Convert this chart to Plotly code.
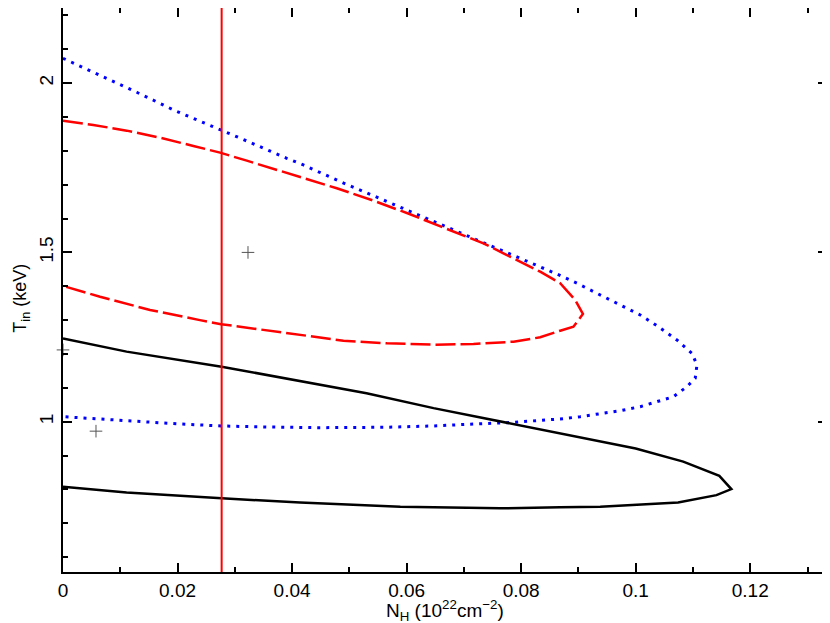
import plotly.graph_objects as go

# ---- confidence contours (N_H in 1e22 cm^-2, T_in in keV) ----
black_nh = [0.0, 0.0111, 0.0277, 0.0414, 0.0530, 0.0647, 0.0775, 0.0868, 0.1000, 0.1083,
            0.1146, 0.1167, 0.1141, 0.1074, 0.0938, 0.0868, 0.0763, 0.0589, 0.0414, 0.0277,
            0.0111, 0.0]
black_t = [1.246, 1.207, 1.1625, 1.121, 1.084, 1.040, 0.997, 0.966, 0.921, 0.882,
           0.840, 0.801, 0.783, 0.761, 0.749, 0.747, 0.744, 0.749, 0.761, 0.774,
           0.791, 0.808]

red_nh = [0.0, 0.00529, 0.01113, 0.01694, 0.02276, 0.02742, 0.03209, 0.0379, 0.04431, 0.04781,
          0.0542, 0.06061, 0.06702, 0.07341, 0.07691, 0.08332, 0.08681, 0.08943, 0.09078,
          0.08913, 0.08681, 0.08332, 0.07866, 0.07167, 0.06468, 0.05654, 0.04896, 0.0414,
          0.0276, 0.0239, 0.0152, 0.00646, 0.0]
red_t = [1.889, 1.8765, 1.8597, 1.839, 1.8145, 1.7947, 1.7711, 1.7406, 1.709, 1.6895,
         1.6529, 1.6127, 1.5693, 1.527, 1.4975, 1.4431, 1.4089, 1.3595, 1.3182,
         1.2806, 1.2688, 1.2493, 1.2363, 1.2295, 1.2275, 1.2316, 1.2393, 1.2561,
         1.288, 1.300, 1.330, 1.369, 1.401]

blue_nh = [0.0, 0.00646, 0.01287, 0.01956, 0.02597, 0.03237, 0.03907, 0.04197, 0.04868, 0.05525,
           0.06189, 0.06835, 0.07488, 0.08128, 0.08594, 0.08973, 0.09322, 0.09729, 0.10079,
           0.10398, 0.1072, 0.10982, 0.11069, 0.11039, 0.10894, 0.1066, 0.1037, 0.10079,
           0.09729, 0.0938, 0.0903, 0.08681, 0.08215, 0.0775, 0.07167, 0.06468, 0.05595,
           0.04459, 0.03558, 0.02772, 0.02044, 0.01345, 0.00646, 0.0]
blue_t = [2.0736, 2.0242, 1.9731, 1.9188, 1.8736, 1.8272, 1.7781, 1.7583, 1.7072, 1.660,
          1.6136, 1.5663, 1.5191, 1.4727, 1.4384, 1.4089, 1.3793, 1.3448, 1.3152,
          1.2806, 1.2414, 1.2021, 1.1675, 1.1282, 1.1034, 1.0739, 1.0591, 1.0443,
          1.0325, 1.0227, 1.0148, 1.008, 1.003, 0.997, 0.9932, 0.9873, 0.9835,
          0.9823, 0.9843, 0.9873, 0.9932, 1.000, 1.008, 1.0148]

# best-fit markers
best_nh = [0.0323, 0.00576, 0.0]
best_t = [1.500, 0.972, 1.212]

# galactic N_H
nh_gal = 0.0277

x_range = [0, 0.1334]
y_range = [0.556, 2.222]
x_ticks = [0, 0.02, 0.04, 0.06, 0.08, 0.1, 0.12]
x_labels = ["0", "0.02", "0.04", "0.06", "0.08", "0.1", "0.12"]
y_ticks = [1, 1.5, 2]
y_labels = ["1", "1.5", "2"]

FONT = "Liberation Sans, Arial, sans-serif"

fig = go.Figure()

fig.add_trace(go.Scatter(x=blue_nh, y=blue_t, mode="lines",
                         line=dict(color="#0000ff", width=3, dash="3px,6px")))
fig.add_trace(go.Scatter(x=red_nh, y=red_t, mode="lines",
                         line=dict(color="#ff0000", width=2.5, dash="20px,5px")))
fig.add_trace(go.Scatter(x=black_nh, y=black_t, mode="lines",
                         line=dict(color="black", width=2.5)))
fig.add_trace(go.Scatter(x=best_nh, y=best_t, mode="markers", cliponaxis=False,
                         marker=dict(symbol="cross-thin", size=9,
                                     line=dict(color="#555555", width=1))))
fig.add_trace(go.Scatter(x=[nh_gal, nh_gal], y=y_range, mode="lines",
                         line=dict(color="#ff0000", width=2)))

fig.update_xaxes(range=x_range, tickvals=x_ticks, ticktext=x_labels,
                 showgrid=False, zeroline=False, showline=True, linecolor="black",
                 linewidth=2, mirror="allticks", ticks="inside", tickcolor="black",
                 tickwidth=2, ticklen=9, automargin=False,
                 tickfont=dict(family=FONT, size=19, color="black"),
                 minor=dict(dtick=0.01, tick0=0, ticks="inside", ticklen=5,
                            tickwidth=2, tickcolor="black"))
fig.update_yaxes(range=y_range, tickvals=y_ticks, ticktext=y_labels, tickangle=-90,
                 showgrid=False, zeroline=False, showline=True, linecolor="black",
                 linewidth=2, mirror="allticks", ticks="inside", tickcolor="black",
                 tickwidth=2, ticklen=9, automargin=False,
                 tickfont=dict(family=FONT, size=19, color="black"),
                 minor=dict(dtick=0.1, tick0=0, ticks="inside", ticklen=5,
                            tickwidth=2, tickcolor="black"))

# axis titles
fig.add_annotation(text="N<sub>H</sub> (10<sup>22</sup>cm<sup>−2</sup>)",
                   xref="paper", yref="paper", x=0.5, y=-0.041, yanchor="top",
                   showarrow=False, font=dict(family=FONT, size=19, color="black"))
fig.add_annotation(text="T<sub>in</sub> (keV)", textangle=-90,
                   xref="paper", yref="paper", x=-0.054, y=0.486, xanchor="center",
                   showarrow=False, font=dict(family=FONT, size=18, color="black"))

# page body keeps an 8px default margin, so the figure is sized to fit the window
fig.update_layout(template="none", width=822, height=615, showlegend=False,
                  plot_bgcolor="white", paper_bgcolor="white",
                  font=dict(family=FONT, size=18, color="black"),
                  margin=dict(l=55, r=3, t=0, b=51, autoexpand=False))

fig.write_html("out.html")
